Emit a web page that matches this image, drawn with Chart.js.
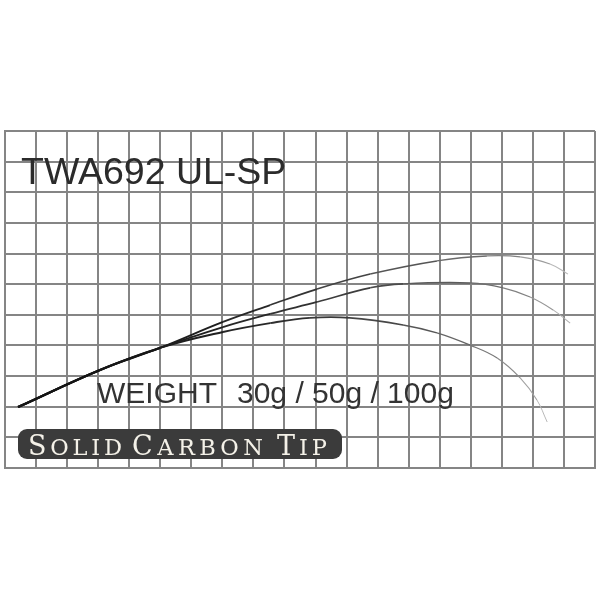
<!DOCTYPE html>
<html>
<head>
<meta charset="utf-8">
<script src="https://cdn.jsdelivr.net/npm/chart.js@4.4.1/dist/chart.umd.min.js"></script>
<style>
html,body{margin:0;padding:0;background:#fff;}
#wrap{width:600px;height:600px;position:relative;}
</style>
</head>
<body>
<div id="wrap"><canvas id="c"></canvas></div>
<script>
// Grid extents (columns / rows)
const xCells = 19;
const yCells = 11;

// Texts
const titleText = "TWA692 UL-SP";
const weightLabel = "WEIGHT";
const weightValues = "30g / 50g / 100g";
const tipWords = ["SOLID", "CARBON", "TIP"];
const seriesNames = ["30g", "50g", "100g"];

// Rod bend curves (grid units, origin bottom-left)
const x30 = [0.42, 3.06, 4.99, 7.02, 8.54, 10.05, 11.76, 13.91, 15.52, 16.59, 17.55, 18.13];
const y30 = [1.99, 3.20, 3.92, 4.77, 5.32, 5.84, 6.33, 6.76, 6.92, 6.89, 6.66, 6.33];

const x50 = [0.42, 3.06, 4.99, 7.02, 8.54, 10.05, 11.76, 12.82, 14.98, 16.04, 16.91, 17.65, 18.20];
const y50 = [1.99, 3.20, 3.92, 4.60, 5.03, 5.42, 5.88, 6.01, 6.04, 5.88, 5.58, 5.16, 4.73];

const x100 = [0.42, 3.06, 4.99, 7.02, 8.54, 9.82, 11.11, 12.82, 13.91, 14.98, 15.85, 16.59, 17.13, 17.46];
const y100 = [1.99, 3.20, 3.92, 4.44, 4.73, 4.90, 4.90, 4.67, 4.41, 4.01, 3.59, 2.94, 2.22, 1.50];

function pts(xs, ys){ return xs.map((x,i)=>({x:x, y:ys[i]})); }

function fadeSegment(n, w0, w1, c0, c1){
  return {
    borderWidth: ctx => { const t = ctx.p0DataIndex/(n-1); return w0 + (w1-w0)*t; },
    borderColor: ctx => {
      const t = Math.pow(ctx.p0DataIndex/(n-1), 1.8);
      const v = Math.round(c0 + (c1-c0)*t);
      return `rgb(${v},${v},${v})`;
    }
  };
}

const overlay = {
  id: 'overlay',
  afterDatasetsDraw(chart){
    const c = chart.ctx;
    c.save();
    c.textBaseline = 'alphabetic';
    // title
    c.fillStyle = '#2b2b2b';
    c.font = '37.5px "Liberation Sans", Arial, sans-serif';
    c.fillText(titleText, 21, 184);
    // weight
    c.font = '30px "Liberation Sans", Arial, sans-serif';
    c.fillStyle = '#333';
    c.fillText(weightLabel, 97, 403);
    c.fillText(weightValues, 237, 403);
    // tip label box
    c.fillStyle = '#3b3b3b';
    c.beginPath();
    if (c.roundRect) c.roundRect(18, 429, 324, 30, 9); else c.rect(18, 429, 324, 30);
    c.fill();
    const spans = [[28,122],[132,263],[277,327]];
    c.fillStyle = '#f4f1e8';
    const bigF = '27px "DejaVu Serif", "Liberation Serif", serif';
    const smF = '22.5px "DejaVu Serif", "Liberation Serif", serif';
    tipWords.forEach((w, wi) => {
      const letters = w.split('');
      const widths = letters.map((ch, i) => { c.font = i===0 ? bigF : smF; return c.measureText(ch).width; });
      const nat = widths.reduce((a,b)=>a+b,0);
      const [x0, x1] = spans[wi];
      const gap = (x1 - x0 - nat) / (letters.length - 1);
      let x = x0;
      letters.forEach((ch, i) => {
        c.font = i===0 ? bigF : smF;
        c.fillText(ch, x, 455);
        x += widths[i] + gap;
      });
    });
    c.restore();
  }
};

new Chart(document.getElementById('c'), {
  type: 'line',
  data: {
    datasets: [
      { label: seriesNames[0], data: pts(x30, y30), segment: fadeSegment(x30.length, 2.2, 0.9, 20, 215), borderColor:'#222' },
      { label: seriesNames[1], data: pts(x50, y50), segment: fadeSegment(x50.length, 2.2, 0.9, 25, 200), borderColor:'#222' },
      { label: seriesNames[2], data: pts(x100, y100), segment: fadeSegment(x100.length, 2.2, 0.9, 25, 210), borderColor:'#222' }
    ]
  },
  options: {
    responsive: true,
    maintainAspectRatio: false,
    animation: false,
    devicePixelRatio: 1,
    layout: { padding: { left: 5, right: 5, top: 131, bottom: 132 } },
    elements: { point: { radius: 0 }, line: { tension: 0.4, fill: false } },
    plugins: { legend: { display: false }, tooltip: { enabled: false } },
    scales: {
      x: {
        type: 'linear', min: 0, max: xCells,
        ticks: { display: false, stepSize: 1 },
        grid: { color: '#858585', lineWidth: 2, drawTicks: false },
        border: { display: true, color: '#858585', width: 2 }
      },
      y: {
        type: 'linear', min: 0, max: yCells,
        ticks: { display: false, stepSize: 1 },
        grid: { color: '#858585', lineWidth: 2, drawTicks: false },
        border: { display: true, color: '#858585', width: 2 }
      }
    }
  },
  plugins: [overlay]
});
</script>
</body>
</html>
